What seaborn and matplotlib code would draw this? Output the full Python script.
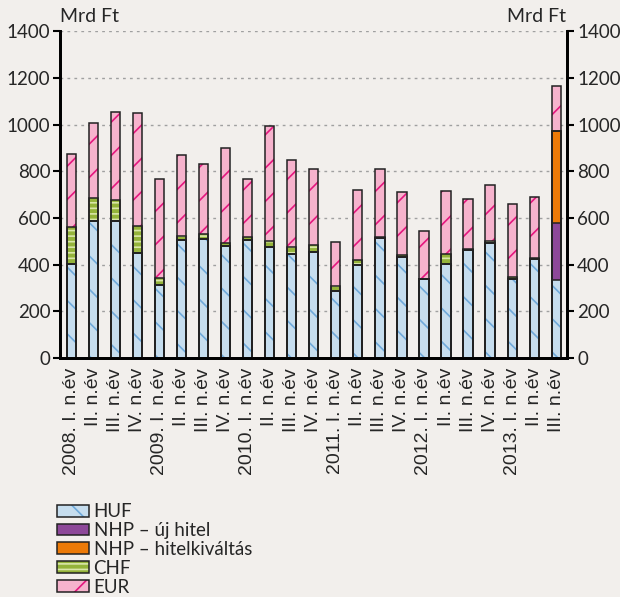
import numpy as np
import pandas as pd
import matplotlib
matplotlib.use("Agg")
import matplotlib.pyplot as plt
import seaborn as sns
from matplotlib.patches import Patch
from matplotlib.legend_handler import HandlerTuple

# quarters 2008 I .. 2013 III
labels = ["2008. I. n.év", "II. n.év", "III. n.év", "IV. n.év",
          "2009. I. n.év", "II. n.év", "III. n.év", "IV. n.év",
          "2010. I. n.év", "II. n.év", "III. n.év", "IV. n.év",
          "2011. I. n.év", "II. n.év", "III. n.év", "IV. n.év",
          "2012. I. n.év", "II. n.év", "III. n.év", "IV. n.év",
          "2013. I. n.év", "II. n.év", "III. n.év"]

huf = [405, 585, 588, 452, 315, 505, 512, 478, 505, 475, 445, 455,
       287, 398, 515, 432, 337, 405, 465, 493, 340, 423, 335]
nhp_new = [0] * 22 + [243]
nhp_refi = [0] * 22 + [395]
chf = [155, 100, 87, 113, 30, 20, 20, 14, 12, 25, 30, 30,
       21, 22, 5, 8, 3, 43, 3, 9, 8, 4, 0]
eur = [315, 323, 378, 483, 420, 345, 300, 406, 251, 492, 373, 323,
       189, 298, 290, 273, 205, 269, 212, 238, 312, 261, 192]

sns.set_style("white")
plt.rcParams["font.family"] = ["Lato", "DejaVu Sans"]
plt.rcParams["hatch.linewidth"] = 1.2

bg = "#F2EFEC"
fig = plt.figure(figsize=(6.2, 5.97), dpi=100, facecolor=bg)
ax = fig.add_axes([0.097, 0.40, 0.818, 0.548])
ax.set_facecolor(bg)

x = np.arange(len(labels))
c1 = np.array(huf)
c2 = c1 + np.array(nhp_new)
c3 = c2 + np.array(nhp_refi)
c4 = c3 + np.array(chf)
c5 = c4 + np.array(eur)

layers = [
    ("EUR", c5, "#F6B3CD", "#E5177F", "/"),
    ("CHF", c4, "#94B33A", "#D9E6A8", "---"),
    ("NHP – hitelkiváltás", c3, "#EC7A08", "#EC7A08", ""),
    ("NHP – új hitel", c2, "#8D4899", "#8D4899", ""),
    ("HUF", c1, "#C6DDEE", "#6FA9DA", "\\"),
]

handles = {}
for name, vals, fc, hc, hatch in layers:
    df = pd.DataFrame({"x": x, "y": vals})
    sns.barplot(data=df, x="x", y="y", color=fc, saturation=1, width=0.42,
                hatch=hatch, edgecolor=hc, linewidth=0, ax=ax, zorder=2)
    sns.barplot(data=df, x="x", y="y", fill=False, width=0.42,
                edgecolor="#222222", linewidth=1.1, ax=ax, zorder=3)
    handles[name] = (Patch(facecolor=fc, edgecolor=hc, hatch=hatch, linewidth=0),
                     Patch(fill=False, edgecolor="#222222", linewidth=1.1))

ax.set_ylim(0, 1400)
ax.set_xlim(-0.5, len(labels) - 0.5)
ax.set_yticks(range(0, 1401, 200))
ax.yaxis.grid(True, color="#A0A0A0", linestyle=(0, (2, 3)), linewidth=1)
ax.set_axisbelow(True)
ax.set_xlabel("")
ax.set_ylabel("")

ax.set_xticks(x)
ax.set_xticklabels(labels, rotation=90, fontsize=14, family="Liberation Sans")
ax.set_xticks(np.arange(-0.5, len(labels)), minor=True)
ax.tick_params(axis="x", which="major", length=0, pad=7)
ax.tick_params(axis="x", which="minor", length=5, width=1.5, color="black")
ax.tick_params(axis="y", which="major", length=5, width=1.5, color="black",
               labelsize=13.5, direction="out", left=True, pad=2)

for s in ["left", "right", "bottom"]:
    ax.spines[s].set_color("black")
    ax.spines[s].set_linewidth(2)
ax.spines["top"].set_visible(False)

ax2 = ax.twinx()
ax2.set_ylim(0, 1400)
ax2.set_yticks(range(0, 1401, 200))
ax2.tick_params(axis="y", length=5, width=1.5, color="black", labelsize=13.5,
                direction="out", pad=2)
for s in ["left", "right", "bottom"]:
    ax2.spines[s].set_color("black")
    ax2.spines[s].set_linewidth(2)
ax2.spines["top"].set_visible(False)

fig.text(0.097, 0.958, "Mrd Ft", fontsize=14, ha="left", va="bottom")
fig.text(0.913, 0.958, "Mrd Ft", fontsize=14, ha="right", va="bottom")

order = ["HUF", "NHP – új hitel", "NHP – hitelkiváltás", "CHF", "EUR"]
fig.legend([handles[n] for n in order], order, loc="upper left",
           bbox_to_anchor=(0.092, 0.157), frameon=False, fontsize=13.5,
           handlelength=1.7, handleheight=0.6, labelspacing=0.1,
           handletextpad=0.25, borderaxespad=0, borderpad=0,
           handler_map={tuple: HandlerTuple(ndivide=1)})

fig.savefig("out.png", dpi=100, facecolor=bg)
